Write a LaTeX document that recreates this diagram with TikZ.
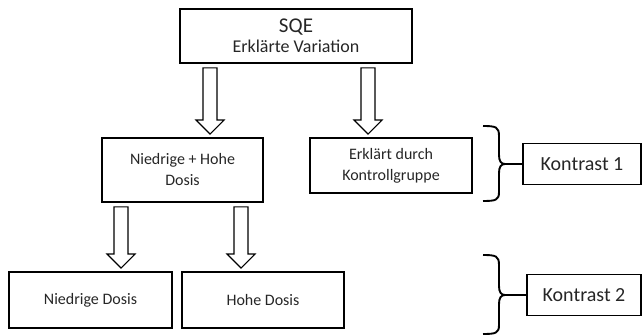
\documentclass[tikz,border=0pt]{standalone}
\usepackage{fontspec}
\setmainfont{Carlito}
\usetikzlibrary{calc}

% hollow block arrow: #1 source node, #2 target node, #3 x position
\newcommand{\blockarrow}[3]{%
  \draw[blk] let \p1=(#1.south), \p2=(#2.north) in
    (#3pt-7pt,\y1-4pt) -- (#3pt+7pt,\y1-4pt) -- (#3pt+7pt,\y2+17pt)
    -- (#3pt+14pt,\y2+17pt) -- (#3pt,\y2+3pt) -- (#3pt-14pt,\y2+17pt)
    -- (#3pt-7pt,\y2+17pt) -- cycle;}

\begin{document}
\begin{tikzpicture}[x=1pt, y=-1pt,
  box/.style={rectangle, draw, line width=1.8pt, inner sep=0pt,
              minimum width=162pt, align=center, text=black!85,
              font=\fontsize{16}{21}\selectfont},
  kbox/.style={rectangle, draw, line width=1.6pt, inner sep=0pt,
               minimum height=41pt, align=center, text=black!85,
               font=\fontsize{20}{24}\selectfont},
  blk/.style={draw, line width=1.2pt, line join=miter, fill=white},
  brc/.style={draw, line width=1.9pt},
  lnk/.style={draw, line width=1.6pt}
]
\useasboundingbox (0,0) rectangle (642,336);

%% ---- Boxes ----
\node[box, minimum width=232pt, minimum height=54pt,
      font=\fontsize{18}{20}\selectfont] (sqe) at (296,36)
      {{\fontsize{21}{20}\selectfont SQE}\\Erklärte Variation};
\node[box, minimum width=161pt, minimum height=64pt] (nh) at (182.5,170) {Niedrige + Hohe\\Dosis};
\node[box, minimum height=55pt] (ek) at (391,165.5) {Erklärt durch\\Kontrollgruppe};
\node[box, minimum width=163pt, minimum height=56pt] (nd) at (90.5,300) {Niedrige Dosis};
\node[box, minimum height=56pt] (hd) at (263,300) {Hohe Dosis};

\node[kbox, minimum width=118pt] (k1) at (582,164) {Kontrast 1};
\node[kbox, minimum width=114pt] (k2) at (584,295) {Kontrast 2};

%% ---- Block arrows ----
\blockarrow{sqe}{nh}{210}
\blockarrow{sqe}{ek}{368}
\blockarrow{nh}{nd}{121}
\blockarrow{nh}{hd}{241}

%% ---- Braces ----
\draw[brc] (483,126) .. controls (496,126) and (499,127) .. (499,136) -- (499,155)
  .. controls (499,161) and (501,164) .. (505,164)
  .. controls (501,164) and (499,167) .. (499,173) -- (499,192)
  .. controls (499,200) and (496,201) .. (483,201);
\coordinate (b1) at (505,164);

\draw[brc] (483,255) .. controls (496,255) and (499,256) .. (499,265) -- (499,286)
  .. controls (499,292) and (501,295) .. (505,295)
  .. controls (501,295) and (499,298) .. (499,304) -- (499,325)
  .. controls (499,333) and (496,334) .. (483,334);
\coordinate (b2) at (505,295);

%% ---- Links to contrasts ----
\draw[lnk] (b1) -- (b1 -| k1.west);
\draw[lnk] (b2) -- (b2 -| k2.west);

\end{tikzpicture}
\end{document}
